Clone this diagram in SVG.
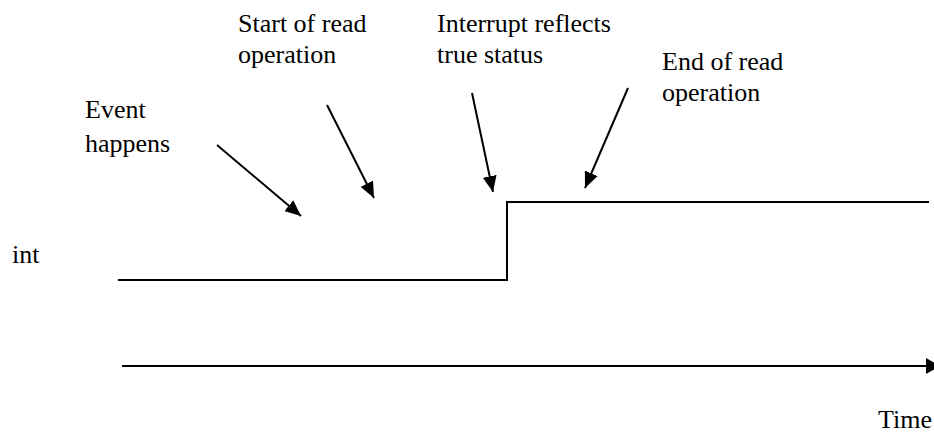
<svg xmlns="http://www.w3.org/2000/svg" width="934" height="435" viewBox="0 0 934 435">
<style>
text{font-family:"Liberation Serif","Times New Roman",serif;font-size:26px;fill:#000}
.ar{stroke:#000;stroke-width:2;fill:none;marker-end:url(#ah)}
.sig{stroke:#000;stroke-width:2;fill:none}
</style>
<defs>
<marker id="ah" viewBox="0 0 16 14" refX="16" refY="7" markerWidth="16" markerHeight="14" markerUnits="userSpaceOnUse" orient="auto">
<path d="M0,0 L16,7 L0,14 z" fill="#000"/>
</marker>
<marker id="ah2" viewBox="0 0 14 16" refX="14" refY="8" markerWidth="14" markerHeight="16" markerUnits="userSpaceOnUse" orient="auto">
<path d="M0,0 L14,8 L0,16 z" fill="#000"/>
</marker>
</defs>
<rect width="934" height="435" fill="#fff"/>
<g id="label-event"><text x="85" y="118">Event</text><text x="85" y="152">happens</text></g>
<g id="label-start"><text x="238" y="32">Start of read</text><text x="238" y="63">operation</text></g>
<g id="label-interrupt"><text x="437" y="32">Interrupt reflects</text><text x="437" y="63">true status</text></g>
<g id="label-end"><text x="662" y="70">End of read</text><text x="662" y="101">operation</text></g>
<g id="label-int"><text x="12" y="263">int</text></g>
<g id="label-time"><text x="878" y="428">Time</text></g>
<g id="signal"><path class="sig" d="M118,280 H507 V202 H929"/></g>
<g id="connectors">
<line class="ar" x1="217" y1="145" x2="301" y2="216"/>
<line class="ar" x1="327" y1="105" x2="374" y2="198"/>
<line class="ar" x1="472" y1="93" x2="493" y2="192"/>
<line class="ar" x1="628" y1="88" x2="585" y2="188"/>
<line x1="122" y1="366" x2="940" y2="366" stroke="#000" stroke-width="2" marker-end="url(#ah2)"/>
</g>
</svg>
